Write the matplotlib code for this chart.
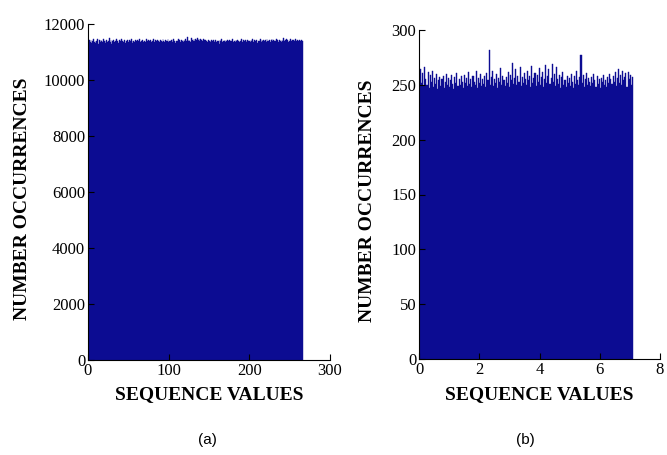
import numpy as np
import matplotlib
matplotlib.use('Agg')
import matplotlib.pyplot as plt

# histograma (a): 256 classes entre 0 e 266
contagens_a = [
    11380, 11420, 11350, 11440, 11310, 11400, 11460, 11370, 11330, 11410, 11390, 11450, 11300, 11420, 11360, 11430,
    11400, 11340, 11470, 11380, 11320, 11410, 11440, 11360, 11390, 11500, 11350, 11420, 11280, 11400, 11430, 11370,
    11410, 11360, 11450, 11390, 11330, 11420, 11380, 11460, 11340, 11400, 11370, 11430, 11310, 11410, 11390, 11440,
    11350, 11420, 11380, 11470, 11400, 11330, 11410, 11360, 11440, 11390, 11260, 11420, 11380, 11450, 11340, 11410,
    11390, 11430, 11370, 11410, 11350, 11460, 11400, 11320, 11420, 11380, 11440, 11360, 11410, 11390, 11470, 11350,
    11420, 11380, 11440, 11300, 11410, 11370, 11430, 11390, 11350, 11460, 11400, 11340, 11420, 11380, 11410, 11450,
    11370, 11410, 11390, 11430, 11360, 11420, 11480, 11400, 11330, 11410, 11390, 11450, 11370, 11420, 11350, 11440,
    11400, 11360, 11430, 11390, 11470, 11410, 11520, 11380, 11440, 11400, 11360, 11490, 11420, 11380, 11450, 11410,
    11460, 11420, 11500, 11440, 11480, 11410, 11470, 11430, 11390, 11450, 11420, 11380, 11440, 11410, 11360, 11430,
    11390, 11410, 11350, 11430, 11380, 11420, 11340, 11400, 11440, 11370, 11410, 11390, 11300, 11420, 11380, 11450,
    11360, 11410, 11390, 11430, 11350, 11400, 11440, 11380, 11420, 11330, 11410, 11390, 11460, 11370, 11400, 11350,
    11420, 11380, 11440, 11400, 11360, 11410, 11390, 11470, 11340, 11420, 11380, 11430, 11400, 11360, 11440, 11390,
    11410, 11370, 11430, 11390, 11450, 11350, 11420, 11400, 11380, 11440, 11330, 11410, 11390, 11460, 11370, 11420,
    11400, 11440, 11380, 11420, 11360, 11470, 11410, 11390, 11430, 11350, 11420, 11480, 11400, 11440, 11380, 11410,
    11450, 11390, 11420, 11370, 11440, 11400, 11360, 11430, 11410, 11490, 11380, 11420, 11460, 11400, 11440, 11370,
    11410, 11450, 11390, 11430, 11370, 11420, 11400, 11460, 11380, 11440, 11410, 11390, 11430, 11400, 11420, 11380,
]
limite_a = 266

# histograma (b): 200 classes entre 0 e 7.1
contagens_b = [
    258, 264, 252, 261, 249, 266, 255, 250, 262, 247, 259, 253, 263, 248, 256, 251, 260, 246, 254, 257,
    249, 255, 258, 247, 253, 260, 250, 256, 248, 254, 259, 251, 246, 257, 252, 261, 249, 255, 250, 258,
    253, 247, 259, 252, 256, 249, 262, 251, 255, 248, 258, 253, 250, 263, 247, 256, 252, 260, 249, 255,
    251, 258, 248, 261, 254, 282, 250, 257, 263, 249, 255, 252, 260, 247, 256, 253, 265, 250, 258, 254,
    249, 257, 252, 262, 248, 259, 254, 270, 251, 256, 264, 250, 258, 253, 266, 249, 257, 252, 261, 255,
    250, 263, 254, 258, 248, 267, 252, 256, 261, 249, 259, 253, 265, 250, 257, 262, 248, 255, 268, 252,
    258, 264, 251, 256, 269, 253, 260, 249, 266, 255, 251, 259, 247, 257, 262, 250, 254, 248, 258, 252,
    256, 249, 260, 253, 247, 258, 251, 263, 254, 250, 257, 277, 252, 259, 248, 255, 261, 250, 256, 253,
    249, 257, 252, 260, 254, 248, 258, 251, 255, 247, 256, 253, 259, 250, 254, 248, 257, 252, 260, 255,
    251, 258, 253, 262, 249, 256, 264, 252, 259, 250, 263, 254, 257, 261, 248, 262, 255, 259, 250, 257,
]
limite_b = 7.1

ticks_xa = [0, 100, 200, 300]
ticks_ya = [0, 2000, 4000, 6000, 8000, 10000, 12000]
ticks_xb = [0, 2, 4, 6, 8]
ticks_yb = [0, 50, 100, 150, 200, 250, 300]

azul = '#0c0c92'
serif = 'Liberation Serif'

fig = plt.figure(figsize=(6.67, 4.55), dpi=100)
ax1 = fig.add_axes([88/667, 1-360/455, 242/667, 336/455])
ax2 = fig.add_axes([419/667, 1-359/455, 241/667, 329/455])


def desenha(ax, contagens, limite, xt, yt, ylab_x, xlab_y):
    bordas = np.linspace(0, limite, len(contagens) + 1)
    larg = bordas[1] - bordas[0]
    ax.bar(bordas[:-1], contagens, width=larg, align='edge', color=azul,
           edgecolor=azul, linewidth=0.3)
    ax.set_xlim(xt[0], xt[-1])
    ax.set_ylim(yt[0], yt[-1])
    ax.set_xticks(xt)
    ax.set_yticks(yt)
    ax.spines['top'].set_visible(False)
    ax.spines['right'].set_visible(False)
    ax.tick_params(direction='in', length=4, width=0.8, labelsize=12, pad=2)
    for t in ax.get_xticklabels() + ax.get_yticklabels():
        t.set_family(serif)
    ax.set_xlabel('SEQUENCE VALUES', family=serif, fontweight='bold', fontsize=14)
    ax.set_ylabel('NUMBER OCCURRENCES', family=serif, fontweight='bold', fontsize=14)
    ax.yaxis.set_label_coords(ylab_x, 0.48)
    ax.xaxis.set_label_coords(0.5, xlab_y)


desenha(ax1, contagens_a, limite_a, ticks_xa, ticks_ya, -0.235, -0.078)
desenha(ax2, contagens_b, limite_b, ticks_xb, ticks_yb, -0.178, -0.082)

fig.text(207/667, 1-440/455, '(a)', family='Liberation Sans', fontsize=11, ha='center', va='center')
fig.text(525/667, 1-440/455, '(b)', family='Liberation Sans', fontsize=11, ha='center', va='center')

fig.savefig('out.png', dpi=100)
